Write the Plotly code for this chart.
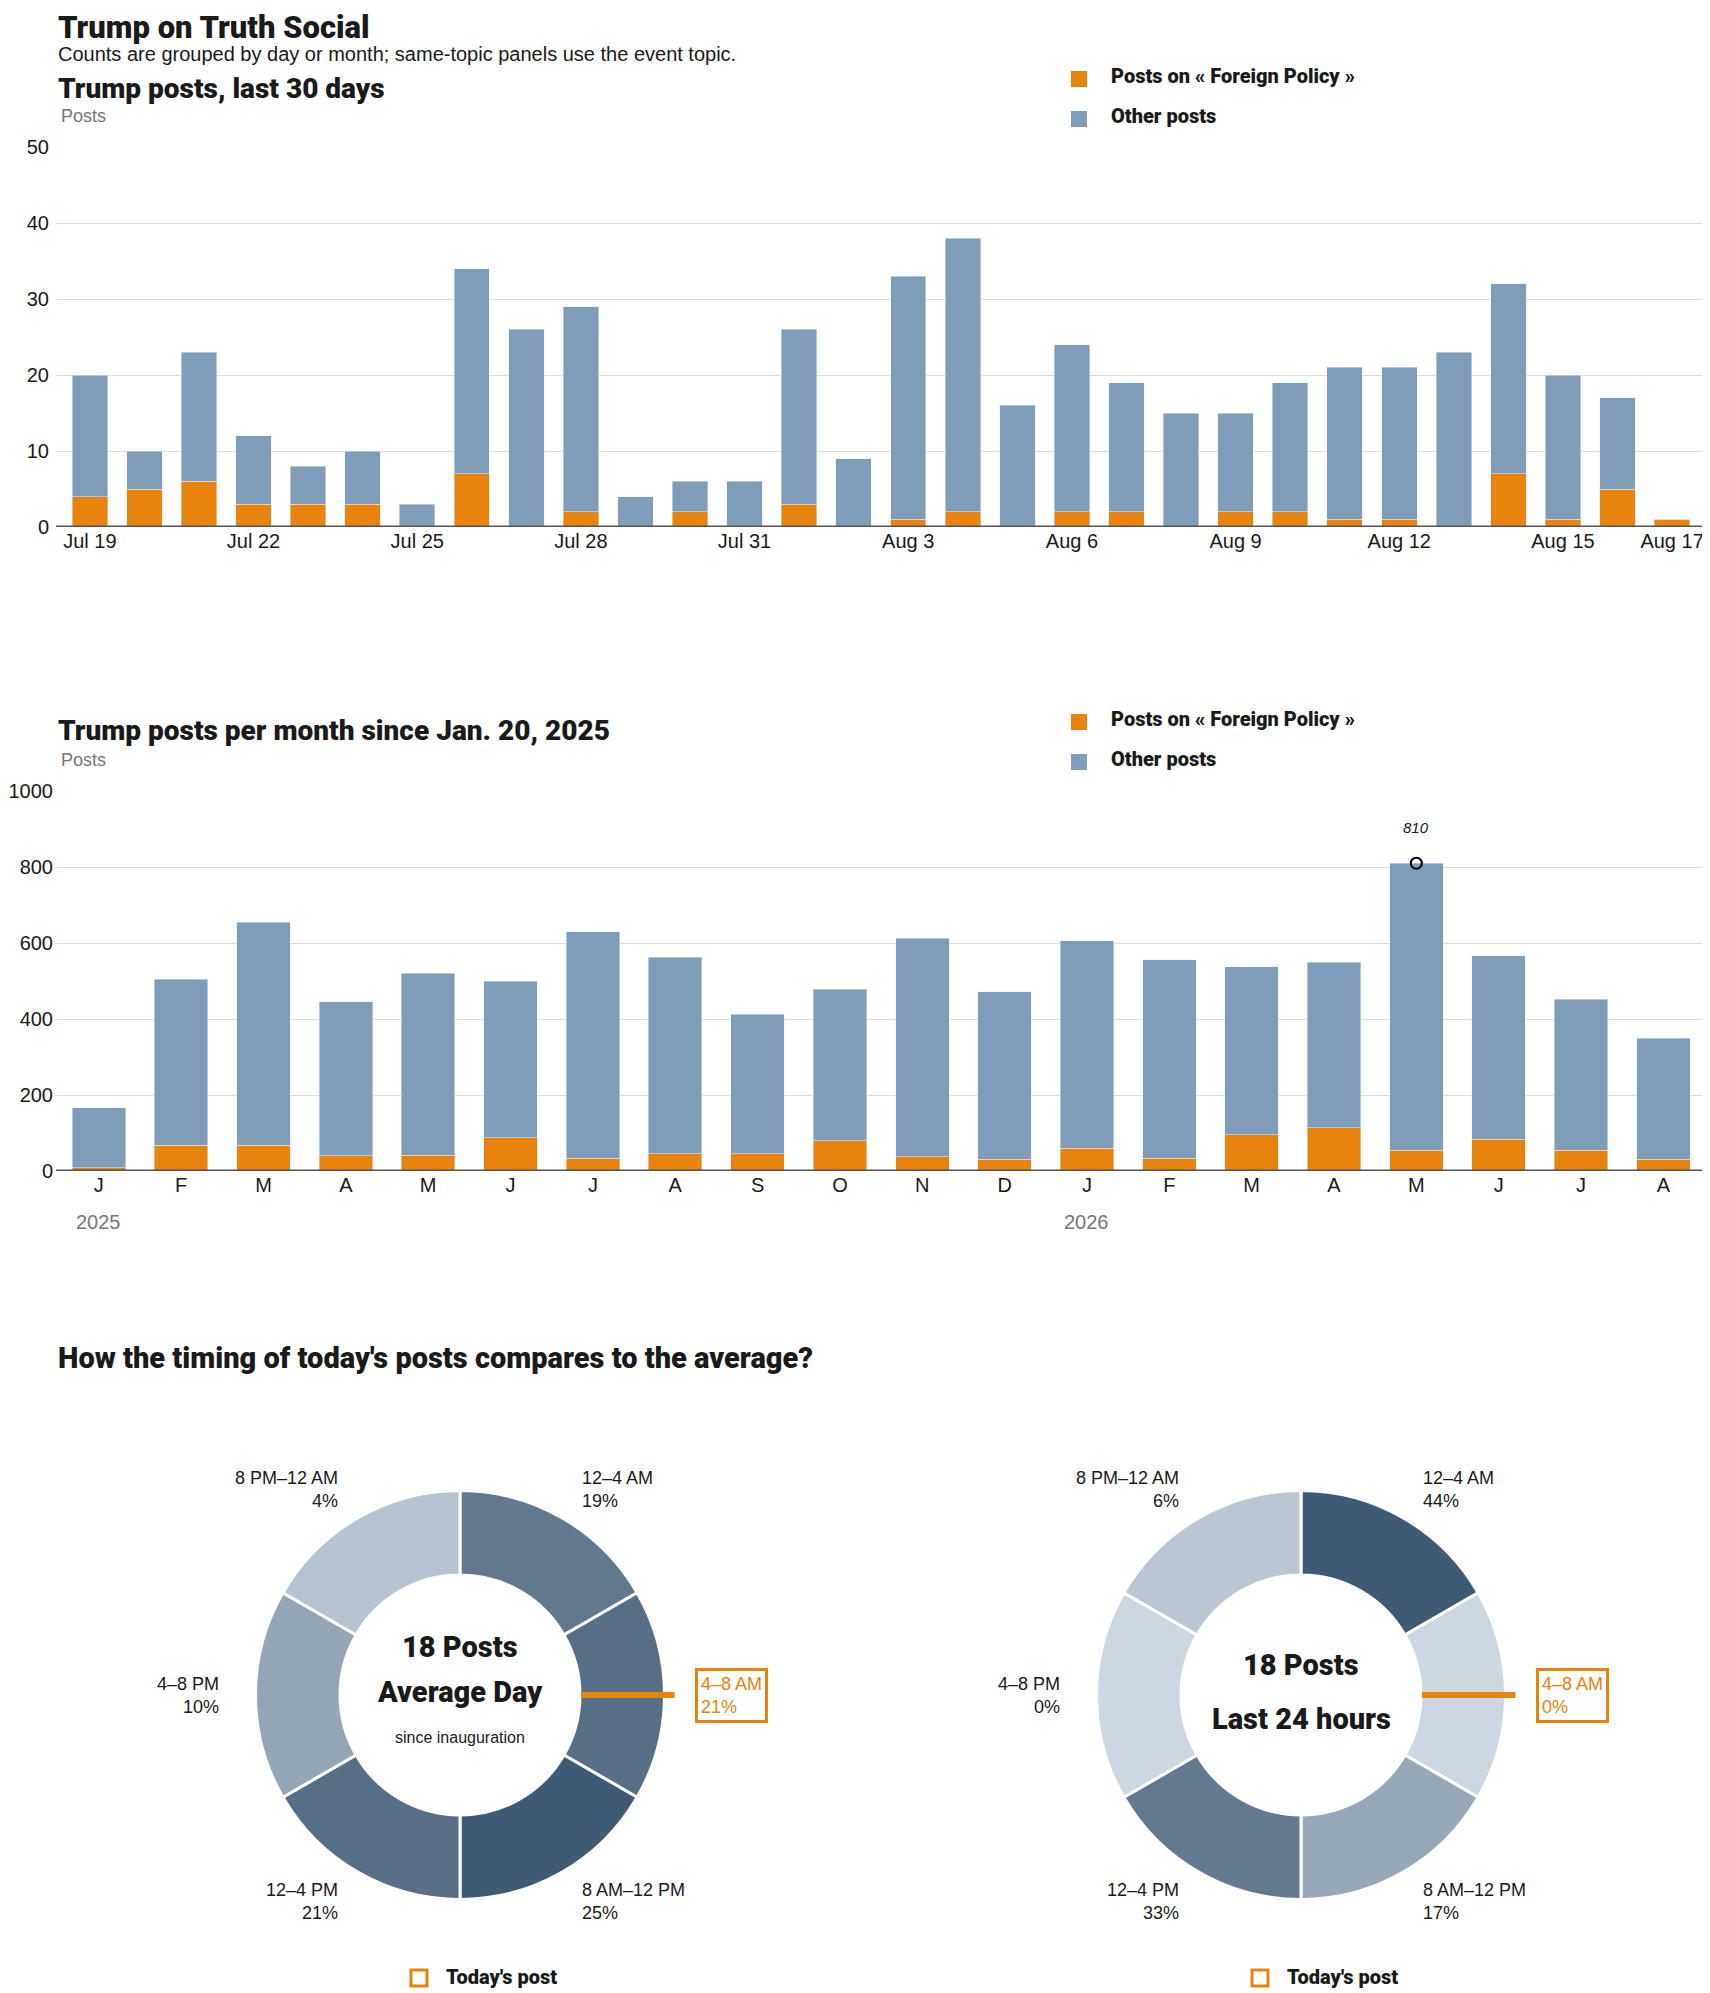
import plotly.graph_objects as go
from plotly.colors import find_intermediate_color

# page size; the browser adds an 8px body margin, so the figure is drawn
# a little smaller and every position below is given in page pixels
W, H = 1710, 1993
PAD = 8
FW, FH = W - PAD, H - PAD

FONT = "Liberation Sans, Arial, sans-serif"
HEAVY = "Roboto, Liberation Sans, Arial, sans-serif"
ORANGE = "#e8830e"
BLUE = "#7f9db9"
INK = "#1a1a1a"
GREY = "#777777"

# ---- last 30 days ----
days = ["Jul 19", "Jul 20", "Jul 21", "Jul 22", "Jul 23", "Jul 24", "Jul 25", "Jul 26",
        "Jul 27", "Jul 28", "Jul 29", "Jul 30", "Jul 31", "Aug 1", "Aug 2", "Aug 3",
        "Aug 4", "Aug 5", "Aug 6", "Aug 7", "Aug 8", "Aug 9", "Aug 10", "Aug 11",
        "Aug 12", "Aug 13", "Aug 14", "Aug 15", "Aug 16", "Aug 17"]
day_total = [20, 10, 23, 12, 8, 10, 3, 34, 26, 29, 4, 6, 6, 26, 9, 33,
             38, 16, 24, 19, 15, 15, 19, 21, 21, 23, 32, 20, 17, 1]
day_foreign = [4, 5, 6, 3, 3, 3, 0, 7, 0, 2, 0, 2, 0, 3, 0, 1,
               2, 0, 2, 2, 0, 2, 2, 1, 1, 0, 7, 1, 5, 1]

# ---- per month since inauguration ----
months = ["J", "F", "M", "A", "M", "J", "J", "A", "S", "O", "N", "D",
          "J", "F", "M", "A", "M", "J", "J", "A"]
month_year = ["2025", "", "", "", "", "", "", "", "", "", "", "",
              "2026", "", "", "", "", "", "", ""]
month_total = [166, 504, 654, 446, 520, 499, 630, 562, 413, 478, 612, 472,
               606, 556, 538, 549, 810, 567, 452, 350]
month_foreign = [8, 68, 68, 40, 42, 87, 33, 45, 45, 79, 38, 31,
                 60, 33, 96, 114, 54, 83, 54, 31]

# ---- time of day ----
slots = ["12–4 AM", "4–8 AM", "8 AM–12 PM", "12–4 PM", "4–8 PM", "8 PM–12 AM"]
avg_share = [19, 21, 25, 21, 10, 4]
today_share = [44, 0, 17, 33, 0, 6]
current_slot = 1
avg_posts = 18
today_posts = 18


def px(x):
    return (x - PAD) / FW


def py(y):
    return 1 - (y - PAD) / FH


day_other = [t - f for t, f in zip(day_total, day_foreign)]
month_other = [t - f for t, f in zip(month_total, month_foreign)]

fig = go.Figure()

# bars, last 30 days
fig.add_trace(go.Bar(x=list(range(len(days))), y=day_foreign, marker_color=ORANGE,
                     name="Posts on « Foreign Policy »", width=0.65,
                     customdata=days, hovertemplate="%{customdata}: %{y}<extra></extra>"))
fig.add_trace(go.Bar(x=list(range(len(days))), y=day_other, marker_color=BLUE,
                     name="Other posts", width=0.65,
                     customdata=days, hovertemplate="%{customdata}: %{y}<extra></extra>"))

# bars, per month
fig.add_trace(go.Bar(x=list(range(len(months))), y=month_foreign, marker_color=ORANGE,
                     width=0.65, xaxis="x2", yaxis="y2", name="Posts on « Foreign Policy »"))
fig.add_trace(go.Bar(x=list(range(len(months))), y=month_other, marker_color=BLUE,
                     width=0.65, xaxis="x2", yaxis="y2", name="Other posts"))

peak = max(range(len(month_total)), key=lambda i: month_total[i])
fig.add_trace(go.Scatter(x=[peak], y=[month_total[peak]], mode="markers", xaxis="x2", yaxis="y2",
                         marker=dict(symbol="circle-open", size=11, color="black",
                                     line=dict(width=2, color="black")),
                         hoverinfo="skip"))

# donuts
LIGHT = (205, 215, 225)
DARK = (63, 90, 117)


def shade(values):
    top = max(values)
    out = []
    for v in values:
        c = find_intermediate_color(LIGHT, DARK, v / top, colortype="tuple")
        out.append("rgb(%d,%d,%d)" % tuple(round(k) for k in c))
    return out


R_OUT, R_IN = 204.5, 120
CY = 1695
donuts = [(460, avg_share), (1301, today_share)]
for cx, share in donuts:
    fig.add_trace(go.Pie(
        labels=slots, values=[1] * len(slots), customdata=share,
        sort=False, direction="clockwise", rotation=0, hole=R_IN / R_OUT,
        marker=dict(colors=shade(share), line=dict(color="white", width=3)),
        textinfo="none", hovertemplate="%{label}: %{customdata}%<extra></extra>",
        domain=dict(x=[px(cx - R_OUT), px(cx + R_OUT)], y=[py(CY + R_OUT), py(CY - R_OUT)]),
        showlegend=False,
    ))

annotations = []
shapes = []


def text(x, y, s, size, color=INK, bold=False, xanchor="left", align="left", **kw):
    annotations.append(dict(
        x=px(x), y=py(y), xref="paper", yref="paper", text=s, showarrow=False,
        xanchor=xanchor, yanchor="middle", align=align,
        font=dict(family=HEAVY if bold else FONT, size=size, color=color,
                  weight=900 if bold else 400), **kw))


# titles
text(56, 27, "Trump on Truth Social", 31, bold=True)
text(56, 54, "Counts are grouped by day or month; same-topic panels use the event topic.", 20)
text(56, 88, "Trump posts, last 30 days", 28, bold=True)
text(59, 116, "Posts", 18, color=GREY)
text(56, 731, "Trump posts per month since Jan. 20, 2025", 28, bold=True)
text(59, 760, "Posts", 18, color=GREY)
text(56, 1358, "How the timing of today's posts compares to the average?", 29, bold=True)

# legends for the bar charts
for top in (71, 714):
    for k, (col, lab) in enumerate([(ORANGE, "Posts on « Foreign Policy »"), (BLUE, "Other posts")]):
        y0 = top + k * 40
        shapes.append(dict(type="rect", xref="paper", yref="paper", x0=px(1071), x1=px(1087),
                           y0=py(y0 + 16), y1=py(y0), fillcolor=col, line=dict(width=0)))
        text(1109, y0 + 5, lab, 20, bold=True)

# year labels under months
for i, yr in enumerate(month_year):
    if yr:
        annotations.append(dict(x=i, y=py(1222), xref="x2", yref="paper", text=yr, showarrow=False,
                                xanchor="center", yanchor="middle",
                                font=dict(family=FONT, size=20, color=GREY)))

# peak label
annotations.append(dict(x=peak, y=month_total[peak], xref="x2", yref="y2", text=str(month_total[peak]),
                        showarrow=False, yshift=36, yanchor="middle",
                        font=dict(family=FONT, size=15, color=INK, style="italic")))

# donut labels
offsets = [(120, -206, "left"), (235, 0, "left"), (120, 206, "left"),
           (-120, 206, "right"), (-239, 0, "right"), (-120, -206, "right")]
centers = [(["%d Posts" % avg_posts, "Average Day"], "since inauguration"),
           (["%d Posts" % today_posts, "Last 24 hours"], None)]
for (cx, share), (big, small) in zip(donuts, centers):
    for i, (lab, v) in enumerate(zip(slots, share)):
        dx, dy, anchor = offsets[i]
        if i == current_slot:
            annotations.append(dict(
                x=px(cx + dx), y=py(CY + dy), xref="paper", yref="paper",
                text="%s<br>%d%%" % (lab, v), showarrow=False, xanchor="left", yanchor="middle",
                align="left", bordercolor=ORANGE, borderwidth=3, borderpad=3,
                font=dict(family=FONT, size=18, color=ORANGE)))
            shapes.append(dict(type="line", xref="paper", yref="paper",
                               x0=px(cx + R_IN + 1), x1=px(cx + R_OUT + 10), y0=py(CY), y1=py(CY),
                               line=dict(color=ORANGE, width=6)))
        else:
            text(cx + dx, CY + dy, "%s<br>%d%%" % (lab, v), 18, xanchor=anchor, align=anchor)
    if small:
        text(cx, CY - 48, big[0], 29, bold=True, xanchor="center")
        text(cx, CY - 3, big[1], 29, bold=True, xanchor="center")
        text(cx, CY + 42, small, 16, xanchor="center")
    else:
        text(cx, CY - 30, big[0], 29, bold=True, xanchor="center")
        text(cx, CY + 24, big[1], 29, bold=True, xanchor="center")
    # today's post legend
    shapes.append(dict(type="rect", xref="paper", yref="paper", x0=px(cx - 49), x1=px(cx - 33),
                       y0=py(1986), y1=py(1970), line=dict(color=ORANGE, width=3),
                       fillcolor="white"))
    text(cx - 16, 1977, "Today's post", 20, bold=True)

axis_common = dict(showline=False, zeroline=False, automargin=False,
                   tickfont=dict(family=FONT, size=20, color=INK))

fig.update_layout(
    width=FW, height=FH, margin=dict(l=0, r=0, t=0, b=0, autoexpand=False),
    paper_bgcolor="white", plot_bgcolor="white",
    barmode="stack", showlegend=False,
    font=dict(family=FONT, color=INK),
    xaxis=dict(domain=[px(56), px(1707)], range=[-0.62, 29.64],
               tickvals=[i for i in range(len(days)) if i % 3 == 0 or i == len(days) - 1],
               ticktext=[d for i, d in enumerate(days) if i % 3 == 0 or i == len(days) - 1],
               showgrid=False, anchor="y", **axis_common),
    yaxis=dict(domain=[py(527), py(147)], range=[0, 50], dtick=10,
               gridcolor="#dddddd", gridwidth=1, ticklabelstandoff=6, **axis_common),
    xaxis2=dict(domain=[px(56), px(1707)], range=[-0.52, 19.53],
                tickvals=list(range(len(months))), ticktext=months,
                showgrid=False, anchor="y2", **axis_common),
    yaxis2=dict(domain=[py(1171), py(791)], range=[0, 1000], dtick=200,
                gridcolor="#dddddd", gridwidth=1, ticklabelstandoff=2, anchor="x2", **axis_common),
    annotations=annotations,
    shapes=shapes + [
        dict(type="line", xref="paper", yref="y", x0=px(56), x1=px(1707), y0=0, y1=0,
             line=dict(color="#555555", width=3)),
        dict(type="line", xref="paper", yref="y2", x0=px(56), x1=px(1707), y0=0, y1=0,
             line=dict(color="#555555", width=3)),
    ],
)

fig.write_html("out.html")
